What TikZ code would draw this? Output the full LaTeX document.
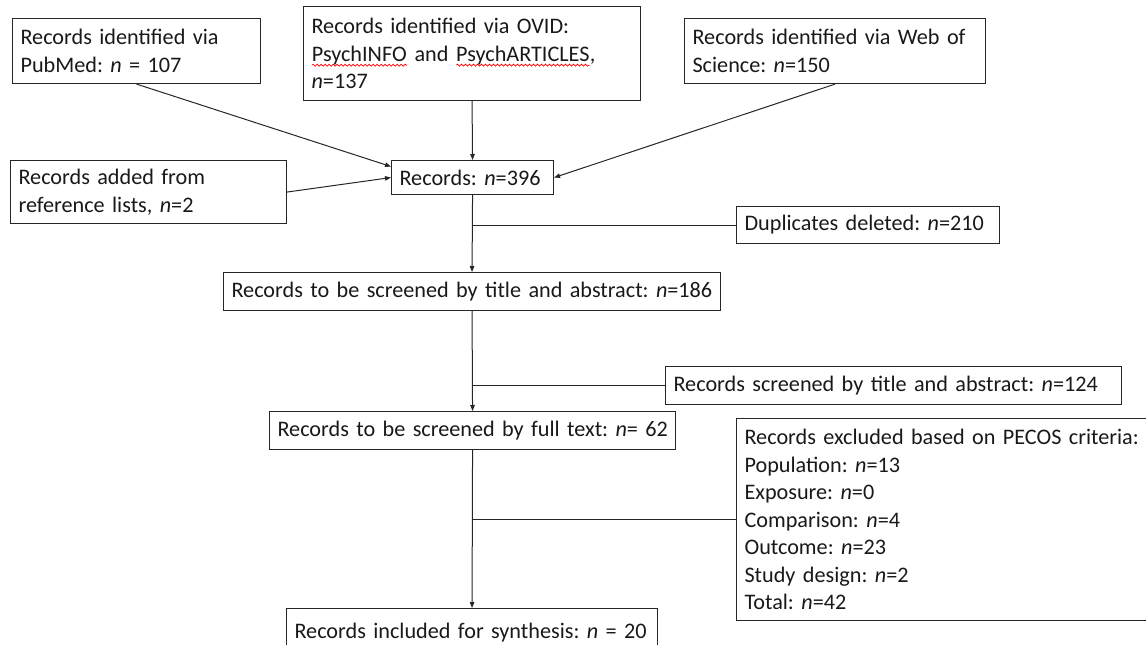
\documentclass[tikz,border=0pt]{standalone}
\usepackage{fontspec}
\setmainfont{Carlito}
\usetikzlibrary{arrows.meta, decorations.pathmorphing}

\newcommand\spellerr[1]{\tikz[baseline=(w.base)]{\node[draw=none, text width=, inner sep=0pt, outer sep=0pt, anchor=base, minimum height=0pt] (w) {#1};
		\draw[red, line width=0.7pt, decorate, decoration={snake, amplitude=1pt, segment length=4pt}] ([yshift=-4pt]w.base west) -- ([yshift=-4pt]w.base east);}}

\tikzset{
	stage/.style 2 args={draw=black!85, line width=1.1pt, align=left, anchor=north west,
		inner xsep=8pt, inner ysep=0pt, text width=#1-16pt, minimum height=#2,
		font=\fontsize{22.2}{27.5}\selectfont, text=black!90,
		execute at begin node={\frenchspacing\rightskip=0pt plus 1fil minus 40pt\relax}},
	flow/.style={draw=black!85, line width=1pt, -{Triangle[length=6pt,width=4.5pt]}},
	side/.style={draw=black!85, line width=1pt}
}

\begin{document}
\begin{tikzpicture}[x=1pt,y=-1pt]
		\useasboundingbox (0,0) rectangle (1146,645);
		\clip (0,0) rectangle (1146,645);
		\node[stage={248pt}{65pt}] (pubmed) at (12,18) {Records identified via\\PubMed: \textit{n} = 107};
		\node[stage={337pt}{94pt}] (ovid) at (303,6) {Records identified via OVID:\\\spellerr{PsychINFO} and \spellerr{PsychARTICLES},\\\textit{n}=137};
		\node[stage={301pt}{65pt}] (wos) at (684,18) {Records identified via Web of\\Science: \textit{n}=150};
		\node[stage={276pt}{63pt}] (ref) at (10,160) {Records added from\\reference lists, \textit{n}=2};
		\node[stage={162pt}{34pt}] (records) at (391,160) {Records: \textit{n}=396};
		\node[stage={263pt}{37pt}] (dup) at (736,206) {Duplicates deleted: \textit{n}=210};
		\node[stage={497pt}{38pt}] (title) at (223,272) {Records to be screened by title and abstract: \textit{n}=186};
		\node[stage={456pt}{38pt}] (screened) at (665,366) {Records screened by title and abstract: \textit{n}=124};
		\node[stage={406pt}{38pt}] (fulltext) at (269,411) {Records to be screened by full text: \textit{n}= 62};
		\node[stage={420pt}{202pt}] (pecos) at (736,418) {Records excluded based on PECOS criteria:\\Population: \textit{n}=13\\Exposure: \textit{n}=0\\Comparison: \textit{n}=4\\Outcome: \textit{n}=23\\Study design: \textit{n}=2\\Total: \textit{n}=42};
		\node[stage={371pt}{48pt}] (final) at (286,608) {Records included for synthesis: \textit{n} = 20};

		\draw[flow] (pubmed.south) -- ([yshift=11pt]records.west);
		\draw[flow] (ref.east) -- (records.west);
		\draw[flow] (ovid.south) -- (records.north);
		\draw[flow] (wos.south) -- (records.east);
		\draw[flow] (records.south) -- (title.north);
		\draw[side] (records.south |- dup.west) -- (dup.west);
		\draw[flow] (title.south) -- (fulltext.north);
		\draw[side] (title.south |- screened.west) -- (screened.west);
		\draw[flow] (fulltext.south) -- (final.north);
		\draw[side] (fulltext.south |- pecos.west) -- (pecos.west);
\end{tikzpicture}
\end{document}
